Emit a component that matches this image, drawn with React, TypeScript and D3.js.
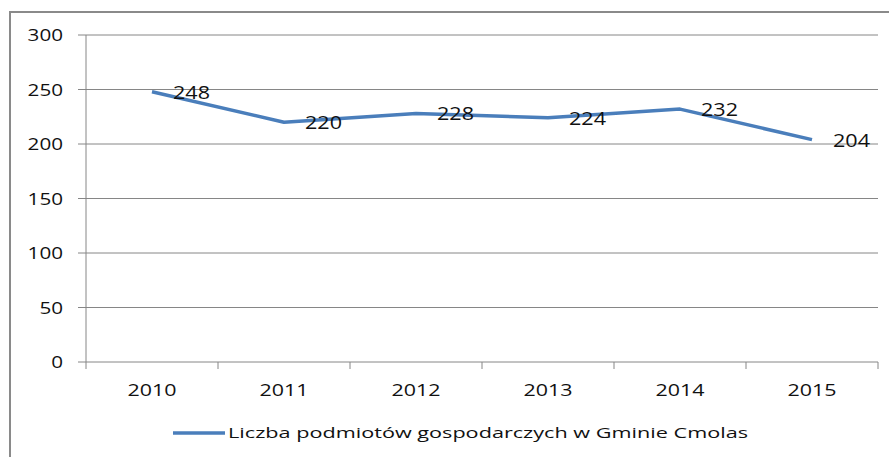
import React from "react";
import * as d3 from "d3";

const categories = ["2010", "2011", "2012", "2013", "2014", "2015"];
const values = [248, 220, 228, 224, 232, 204];
const yTicks = [0, 50, 100, 150, 200, 250, 300];
const seriesName = "Liczba podmiotów gospodarczych w Gminie Cmolas";

const W = 889;
const H = 457;
const FONT = "'Open Sans', 'Liberation Sans', Arial, sans-serif";
const LINE_COLOR = "#4a7ebb";
const GRID = "#868686";

export default function App() {
  const x = d3.scaleBand<string>().domain(categories).range([86, 878]);
  const y = d3.scaleLinear().domain([0, 300]).range([362, 35]);
  const cx = (c: string) => (x(c) as number) + x.bandwidth() / 2;

  const line = d3
    .line<number>()
    .x((_, i) => cx(categories[i]))
    .y((d) => y(d));

  const boundaries = categories.map((c) => x(c) as number).concat([x.range()[1]]);

  return (
    <svg
      width={W}
      height={H}
      style={{ position: "absolute", left: 0, top: 0, background: "#fff" }}
      fontFamily={FONT}
    >
      {/* outer chart border */}
      <path d={`M10,${H + 2} L10,12 L${W + 2},12`} fill="none" stroke="#8a8a8a" strokeWidth={2} />

      {/* gridlines and y ticks */}
      {yTicks.map((t) => (
        <g key={t}>
          <line x1={78} x2={x.range()[1]} y1={y(t)} y2={y(t)} stroke={GRID} strokeWidth={1} />
          <text
            x={63}
            y={y(t) + 6}
            textAnchor="end"
            fontSize={16}
            fill="#111"
            textLength={String(t).length * 11.8}
            lengthAdjust="spacingAndGlyphs"
          >
            {t}
          </text>
        </g>
      ))}

      {/* y axis */}
      <line x1={86} x2={86} y1={y(300)} y2={y(0)} stroke={GRID} strokeWidth={1} />

      {/* x ticks */}
      {boundaries.map((b, i) => (
        <line key={i} x1={b} x2={b} y1={y(0)} y2={y(0) + 7} stroke={GRID} strokeWidth={1} />
      ))}

      {/* x labels */}
      {categories.map((c) => (
        <text
          key={c}
          x={cx(c)}
          y={396}
          textAnchor="middle"
          fontSize={17}
          fill="#111"
          textLength={49}
          lengthAdjust="spacingAndGlyphs"
        >
          {c}
        </text>
      ))}

      {/* series line */}
      <path d={line(values) || ""} fill="none" stroke={LINE_COLOR} strokeWidth={3.5} strokeLinejoin="round" />

      {/* data labels */}
      {values.map((v, i) => (
        <text
          key={i}
          x={cx(categories[i]) + 21}
          y={y(v) + 7}
          fontSize={17.5}
          fill="#111"
          textLength={37}
          lengthAdjust="spacingAndGlyphs"
        >
          {v}
        </text>
      ))}

      {/* legend */}
      <line x1={173} x2={225} y1={433} y2={433} stroke={LINE_COLOR} strokeWidth={3.5} />
      <text
        x={228}
        y={438}
        fontSize={15}
        fill="#111"
        textLength={520}
        lengthAdjust="spacingAndGlyphs"
      >
        {seriesName}
      </text>
    </svg>
  );
}
